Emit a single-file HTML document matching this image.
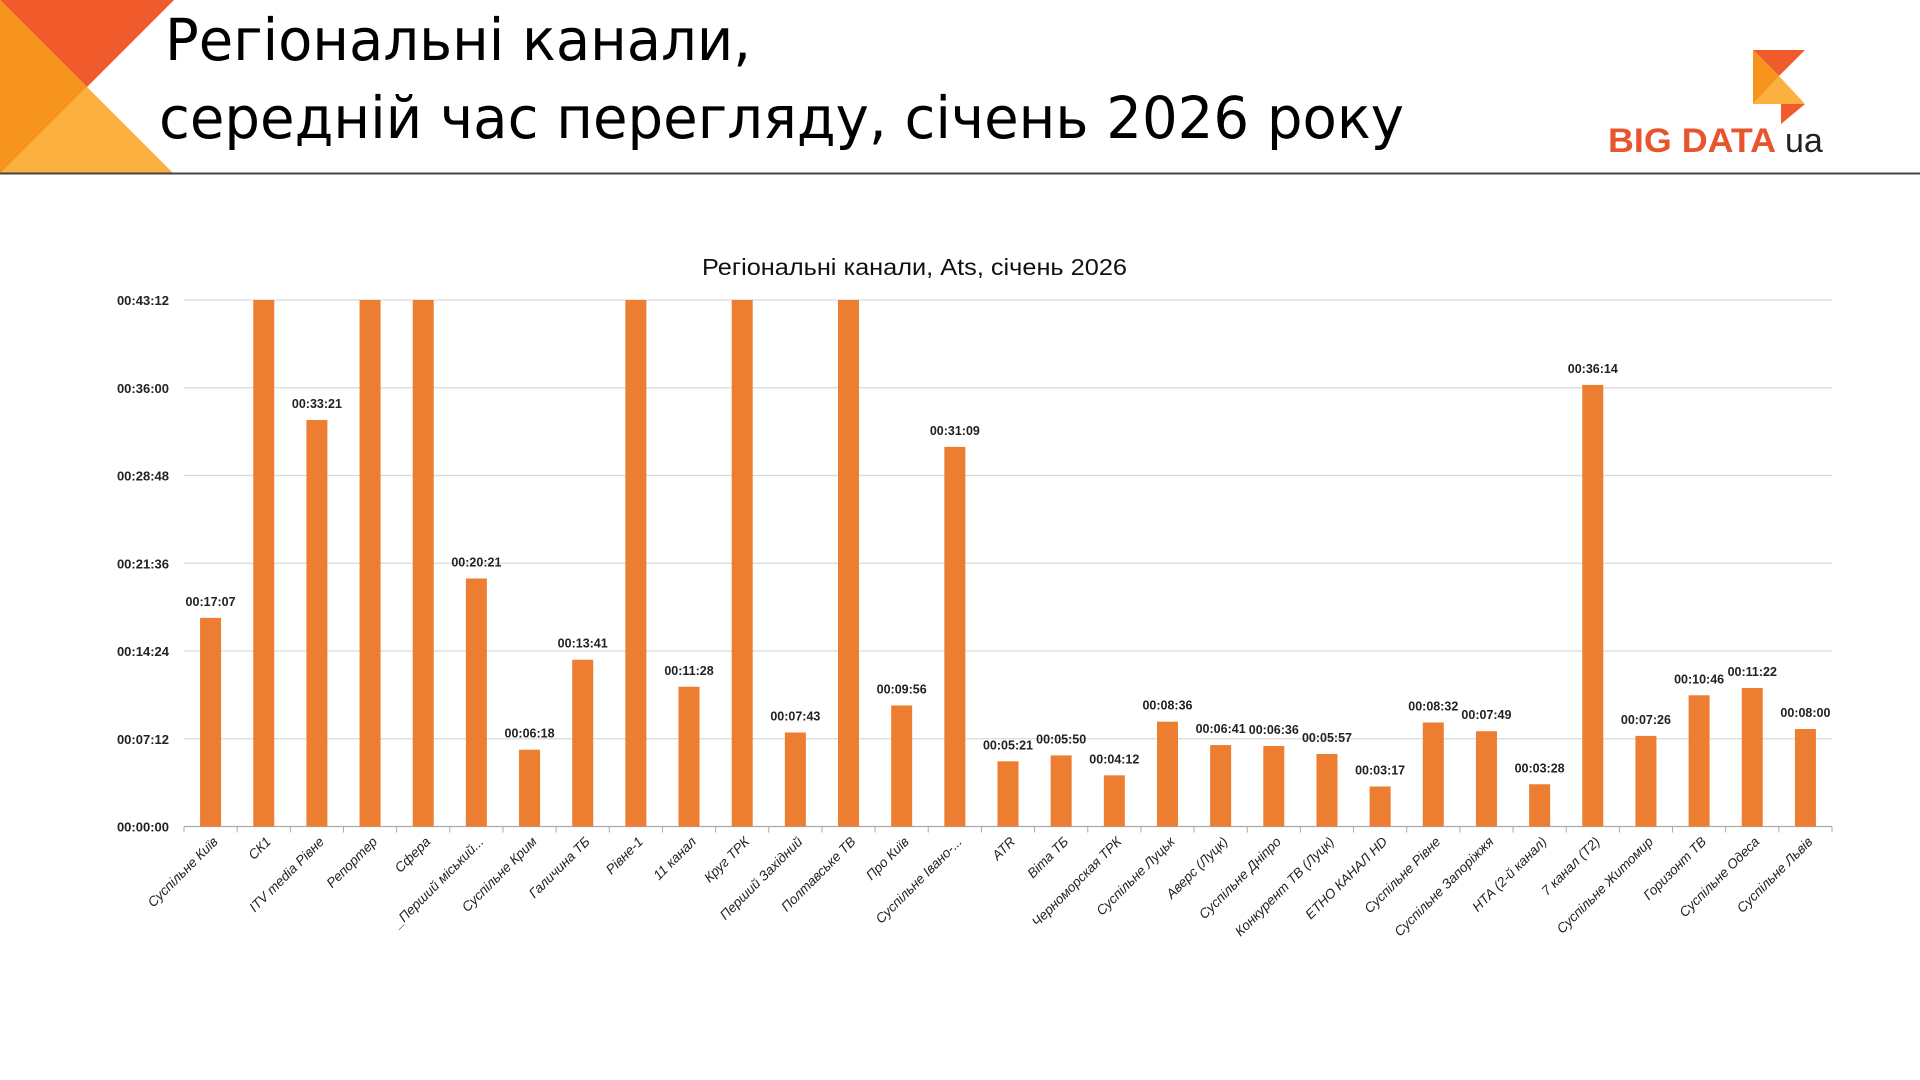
<!DOCTYPE html>
<html><head><meta charset="utf-8"><style>
html,body{margin:0;padding:0;background:#fff;width:1920px;height:1080px;overflow:hidden}
svg{display:block;font-family:"Liberation Sans","DejaVu Sans",sans-serif}
</style></head><body>
<svg id="page" width="1920" height="1080" viewBox="0 0 1920 1080" xmlns="http://www.w3.org/2000/svg">
<g>
<polygon points="0,0 174,0 87,87" fill="#F15A2B"/>
<polygon points="0,0 87,87 0,174" fill="#F7941D"/>
<polygon points="0,174 87,87 174,174" fill="#FBB040"/>
</g>
<text x="165" y="60" font-size="58" fill="#000" textLength="586" lengthAdjust="spacingAndGlyphs" font-family="DejaVu Sans Condensed, Liberation Sans Narrow, sans-serif">Регіональні канали,</text>
<text x="159" y="138" font-size="58" fill="#000" textLength="1245" lengthAdjust="spacingAndGlyphs" font-family="DejaVu Sans Condensed, Liberation Sans Narrow, sans-serif">середній час перегляду, січень 2026 року</text>
<g>
<polygon points="1753,50 1805,50 1779,76" fill="#F15A2B"/>
<polygon points="1753,50 1779,76 1753,104" fill="#F7941D"/>
<polygon points="1753,104 1779,76 1805,104" fill="#FBB040"/>
<polygon points="1781,104 1805,104 1781,124" fill="#F15A2B"/>
<text x="1608" y="152" font-size="34" font-weight="bold" fill="#E8542B" textLength="168" lengthAdjust="spacingAndGlyphs">BIG DATA</text>
<text x="1785" y="152" font-size="34" fill="#222">ua</text>
</g>
<line x1="0" y1="173.5" x2="1920" y2="173.5" stroke="#444" stroke-width="2"/>
<text x="702" y="275" font-size="23" fill="#111" textLength="425" lengthAdjust="spacingAndGlyphs">Регіональні канали, Ats, січень 2026</text>
<g id="grid"></g>
<g id="bars"></g>
<g id="xlabels"></g>
</svg>
<script>
const categories = ["Суспільне Київ","СК1","ITV media Рівне","Репортер","Сфера","_Перший міський...","Суспільне Крим","Галичина ТБ","Рівне-1","11 канал","Круг ТРК","Перший Західний","Полтавське ТВ","Про Київ","Суспільне Івано-...","ATR","Віта ТБ","Черноморская ТРК","Суспільне Луцьк","Аверс (Луцк)","Суспільне Дніпро","Конкурент ТВ (Луцк)","ЕТНО КАНАЛ HD","Суспільне Рівне","Суспільне Запоріжжя","НТА (2-й канал)","7 канал (Т2)","Суспільне Житомир","Горизонт ТВ","Суспільне Одеса","Суспільне Львів"];
const values = ["00:17:07","00:50:00","00:33:21","00:50:00","00:50:00","00:20:21","00:06:18","00:13:41","00:50:00","00:11:28","00:50:00","00:07:43","00:50:00","00:09:56","00:31:09","00:05:21","00:05:50","00:04:12","00:08:36","00:06:41","00:06:36","00:05:57","00:03:17","00:08:32","00:07:49","00:03:28","00:36:14","00:07:26","00:10:46","00:11:22","00:08:00"];
const yTicks = ["00:00:00","00:07:12","00:14:24","00:21:36","00:28:48","00:36:00","00:43:12"];
const NS="http://www.w3.org/2000/svg";
const L=184,R=1832,T=300,B=826.5,YMAX=2592;
const sec=s=>{const p=s.split(':').map(Number);return p[0]*3600+p[1]*60+p[2];};
const y=v=>B-(Math.min(v,YMAX)/YMAX)*(B-T);
const step=(R-L)/categories.length;
const x=i=>L+step*(i+0.5);
function mk(t,a,p){const e=document.createElementNS(NS,t);for(const k in a)e.setAttribute(k,a[k]);p.appendChild(e);return e;}
const grid=document.getElementById('grid');
yTicks.forEach((t,i)=>{const v=sec(t),yy=y(v);
 const ln=mk('line',{x1:L,x2:R,y1:yy,y2:yy,stroke:i==0?'#aaa':'#d9d9d9','stroke-width':1.3},grid);
 
 
 const tx=mk('text',{x:169,y:yy+5,'font-size':13,'font-weight':'bold','text-anchor':'end',fill:'#222'},grid);tx.textContent=t;
 
 
});
const bars=document.getElementById('bars'),xl=document.getElementById('xlabels');
for(let i=0;i<=categories.length;i++){const tk=mk('line',{x1:L+step*i,x2:L+step*i,y1:B,y2:B+6,stroke:'#aaa'},grid);
 
 }
categories.forEach((c,i)=>{const v=sec(values[i]),yy=y(v),cx=x(i);
 const r=mk('rect',{x:cx-10.5,y:yy,width:21,height:B-yy,fill:'#ED7D31'},bars);
 
 
 if(v<=YMAX){const lb=mk('text',{x:cx,y:yy-12,'font-size':12.5,'font-weight':'bold','text-anchor':'middle',fill:'#222'},bars);lb.textContent=values[i];
  
  }
 const t=mk('text',{x:cx+8,y:B+16,'font-size':13.5,'font-style':'italic','text-anchor':'end',fill:'#222',transform:`rotate(-45 ${cx+8} ${B+16})`},xl);t.textContent=c;
 
 
});
</script>
</body></html>
